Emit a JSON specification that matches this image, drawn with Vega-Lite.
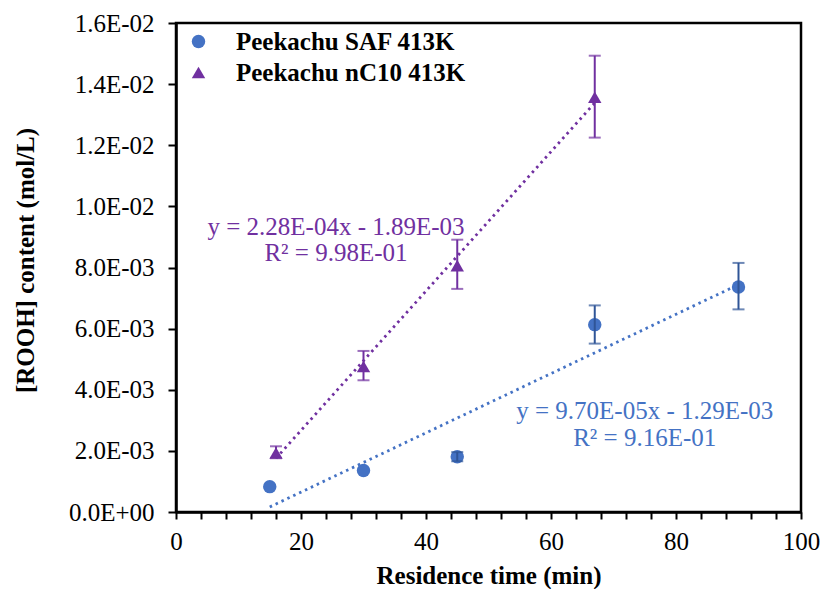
{
  "$schema": "https://vega.github.io/schema/vega-lite/v6.json",
  "width": 625,
  "height": 489,
  "autosize": {"type": "none"},
  "padding": {"left": 176, "top": 23, "right": 21, "bottom": 77},
  "background": "white",
  "config": {
    "font": "Times New Roman, Liberation Serif, serif",
    "view": {"stroke": "black", "strokeWidth": 2.5},
    "axis": {
      "grid": false,
      "domainColor": "black",
      "domainWidth": 2.5,
      "tickColor": "black",
      "tickWidth": 2,
      "labelColor": "black",
      "labelFont": "Times New Roman, Liberation Serif, serif",
      "labelFontSize": 25,
      "titleFont": "Times New Roman, Liberation Serif, serif",
      "titleFontSize": 25,
      "titleFontWeight": "bold",
      "titleColor": "black"
    },
    "legend": {
      "labelFont": "Times New Roman, Liberation Serif, serif",
      "labelFontSize": 25,
      "labelFontWeight": "bold",
      "labelColor": "black",
      "labelLimit": 500,
      "symbolSize": 180,
      "symbolStrokeWidth": 0,
      "rowPadding": 5,
      "labelOffset": 25,
      "padding": 0
    }
  },
  "datasets": {
    "pts": [
      {"series": "Peekachu SAF 413K", "x": 15, "y": 0.00083, "lo": null, "hi": null},
      {"series": "Peekachu SAF 413K", "x": 30, "y": 0.00136, "lo": null, "hi": null},
      {"series": "Peekachu SAF 413K", "x": 45, "y": 0.00181, "lo": 0.00166, "hi": 0.00196},
      {"series": "Peekachu SAF 413K", "x": 67, "y": 0.00613, "lo": 0.00551, "hi": 0.00676},
      {"series": "Peekachu SAF 413K", "x": 90, "y": 0.00736, "lo": 0.00663, "hi": 0.00815},
      {"series": "Peekachu nC10 413K", "x": 16, "y": 0.00193, "lo": 0.00176, "hi": 0.00215},
      {"series": "Peekachu nC10 413K", "x": 30, "y": 0.00476, "lo": 0.00431, "hi": 0.00527},
      {"series": "Peekachu nC10 413K", "x": 45, "y": 0.00806, "lo": 0.0073, "hi": 0.00891},
      {"series": "Peekachu nC10 413K", "x": 67, "y": 0.01357, "lo": 0.01225, "hi": 0.01493}
    ],
    "trend": [
      {"series": "Peekachu SAF 413K", "x": 15, "y": 0.000165},
      {"series": "Peekachu SAF 413K", "x": 90, "y": 0.00744},
      {"series": "Peekachu nC10 413K", "x": 16, "y": 0.001758},
      {"series": "Peekachu nC10 413K", "x": 67, "y": 0.013386}
    ],
    "notes": [
      {"series": "Peekachu nC10 413K", "x": 25.6, "y": 0.00933, "label": "y = 2.28E-04x - 1.89E-03"},
      {"series": "Peekachu nC10 413K", "x": 25.6, "y": 0.00846, "label": "R² = 9.98E-01"},
      {"series": "Peekachu SAF 413K", "x": 75, "y": 0.0033, "label": "y = 9.70E-05x - 1.29E-03"},
      {"series": "Peekachu SAF 413K", "x": 75, "y": 0.00241, "label": "R² = 9.16E-01"}
    ]
  },
  "encoding": {
    "x": {
      "field": "x", "type": "quantitative",
      "title": "Residence time (min)",
      "scale": {"domain": [0, 100], "nice": false},
      "axis": {
        "values": [0, 4, 8, 12, 16, 20, 24, 28, 32, 36, 40, 44, 48, 52, 56, 60, 64, 68, 72, 76, 80, 84, 88, 92, 96, 100],
        "labelExpr": "datum.value % 20 == 0 ? datum.label : ''",
        "labelOverlap": false,
        "labelFlush": false,
        "tickSize": 7,
        "labelPadding": 10,
        "titleY": 63,
        "titleBaseline": "middle"
      }
    }
  },
  "layer": [
    {
      "data": {"name": "pts"},
      "mark": {"type": "point", "filled": true, "opacity": 1, "size": 180, "strokeWidth": 0},
      "encoding": {
        "y": {
          "field": "y", "type": "quantitative",
          "title": "[ROOH] content (mol/L)",
          "scale": {"domain": [0, 0.016], "nice": false},
          "axis": {
            "values": [0, 0.002, 0.004, 0.006, 0.008, 0.01, 0.012, 0.014, 0.016],
            "labelExpr": "replace(replace(format(datum.value, '.1e'), 'e-', 'E-0'), 'e+', 'E+0')",
            "labelOverlap": false,
            "labelFlush": false,
            "tickSize": 8,
            "labelPadding": 14,
            "titleX": -151,
            "titleY": 237,
            "titleAngle": -90,
            "titleAlign": "center",
            "titleBaseline": "middle"
          }
        },
        "color": {
          "field": "series", "type": "nominal",
          "scale": {"domain": ["Peekachu SAF 413K", "Peekachu nC10 413K"], "range": ["#4472C4", "#7030A0"]},
          "legend": {"title": null, "orient": "none", "legendX": 10, "legendY": 6}
        },
        "shape": {
          "field": "series", "type": "nominal",
          "scale": {"domain": ["Peekachu SAF 413K", "Peekachu nC10 413K"], "range": ["circle", "triangle-up"]},
          "legend": {"title": null, "orient": "none", "legendX": 10, "legendY": 6}
        }
      }
    },
    {
      "data": {"name": "trend"},
      "transform": [{"filter": "datum.series == 'Peekachu SAF 413K'"}],
      "mark": {"type": "line", "strokeDash": [2.5, 4], "strokeWidth": 2.8, "color": "#4472C4"},
      "encoding": {
        "y": {"field": "y", "type": "quantitative", "title": "[ROOH] content (mol/L)"}
      }
    },
    {
      "data": {"name": "trend"},
      "transform": [{"filter": "datum.series == 'Peekachu nC10 413K'"}],
      "mark": {"type": "line", "strokeDash": [2.5, 4], "strokeWidth": 2.8, "color": "#7030A0"},
      "encoding": {
        "y": {"field": "y", "type": "quantitative", "title": "[ROOH] content (mol/L)"}
      }
    },
    {
      "data": {"name": "pts"},
      "transform": [{"filter": "datum.lo != null && datum.series == 'Peekachu SAF 413K'"}],
      "layer": [
        {
          "mark": {"type": "rule", "color": "#2F5597", "strokeWidth": 2},
          "encoding": {
            "y": {"field": "lo", "type": "quantitative", "title": "[ROOH] content (mol/L)"},
            "y2": {"field": "hi"}
          }
        },
        {
          "mark": {"type": "tick", "orient": "horizontal", "color": "#2F5597", "size": 12, "thickness": 2},
          "encoding": {
            "y": {"field": "lo", "type": "quantitative", "title": "[ROOH] content (mol/L)"}
          }
        },
        {
          "mark": {"type": "tick", "orient": "horizontal", "color": "#2F5597", "size": 12, "thickness": 2},
          "encoding": {
            "y": {"field": "hi", "type": "quantitative", "title": "[ROOH] content (mol/L)"}
          }
        }
      ]
    },
    {
      "data": {"name": "pts"},
      "transform": [{"filter": "datum.lo != null && datum.series == 'Peekachu nC10 413K'"}],
      "layer": [
        {
          "mark": {"type": "rule", "color": "#7030A0", "strokeWidth": 2},
          "encoding": {
            "y": {"field": "lo", "type": "quantitative", "title": "[ROOH] content (mol/L)"},
            "y2": {"field": "hi"}
          }
        },
        {
          "mark": {"type": "tick", "orient": "horizontal", "color": "#7030A0", "size": 12, "thickness": 2},
          "encoding": {
            "y": {"field": "lo", "type": "quantitative", "title": "[ROOH] content (mol/L)"}
          }
        },
        {
          "mark": {"type": "tick", "orient": "horizontal", "color": "#7030A0", "size": 12, "thickness": 2},
          "encoding": {
            "y": {"field": "hi", "type": "quantitative", "title": "[ROOH] content (mol/L)"}
          }
        }
      ]
    },
    {
      "data": {"name": "notes"},
      "transform": [{"filter": "datum.series == 'Peekachu SAF 413K'"}],
      "mark": {"type": "text", "fontSize": 25, "align": "center", "baseline": "middle", "font": "Times New Roman, Liberation Serif, serif", "color": "#4472C4"},
      "encoding": {
        "y": {"field": "y", "type": "quantitative", "title": "[ROOH] content (mol/L)"},
        "text": {"field": "label"}
      }
    },
    {
      "data": {"name": "notes"},
      "transform": [{"filter": "datum.series == 'Peekachu nC10 413K'"}],
      "mark": {"type": "text", "fontSize": 25, "align": "center", "baseline": "middle", "font": "Times New Roman, Liberation Serif, serif", "color": "#7030A0"},
      "encoding": {
        "y": {"field": "y", "type": "quantitative", "title": "[ROOH] content (mol/L)"},
        "text": {"field": "label"}
      }
    }
  ]
}
